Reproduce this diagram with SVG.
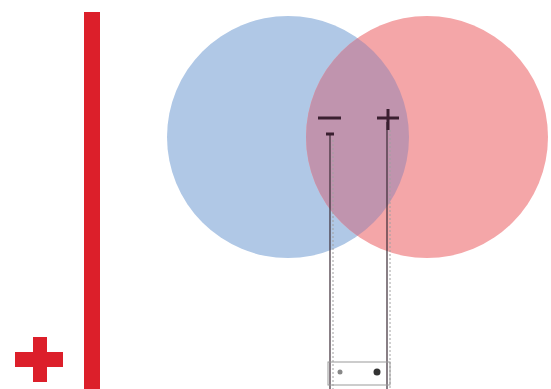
<svg xmlns="http://www.w3.org/2000/svg" width="551" height="389" viewBox="0 0 551 389">
<style>
.red{fill:#dc1f2a}
.wire{stroke:#3a2a35;stroke-width:1.2;fill:none}
.ghost{stroke:#a0a0a0;stroke-width:1;stroke-dasharray:2 2;fill:none}
.sign{stroke:#3a1f30;stroke-width:3;fill:none}
</style>
<defs>
<clipPath id="pinkClip"><circle cx="427" cy="137" r="121"/></clipPath>
</defs>
<rect width="551" height="389" fill="#ffffff"/>
<g id="battery-bar"><rect class="red" x="84" y="12" width="16" height="377"/></g>
<g id="battery-plus">
<rect class="red" x="15" y="352" width="48" height="15"/>
<rect class="red" x="33" y="337" width="14" height="45"/>
</g>
<g id="circle-blue"><circle cx="288" cy="137" r="121" fill="#b0c8e6"/></g>
<g id="circle-pink"><circle cx="427" cy="137" r="121" fill="#f4a6a8"/></g>
<g id="overlap"><circle cx="288" cy="137" r="121" fill="#c094ae" clip-path="url(#pinkClip)"/></g>
<g id="connectors">
<line class="wire" x1="330" y1="134" x2="330" y2="389"/>
<line class="wire" x1="387" y1="122" x2="387" y2="389"/>
<line class="ghost" x1="333" y1="140" x2="333" y2="389"/>
<line class="ghost" x1="390" y1="130" x2="390" y2="389"/>
</g>
<g id="minus-sign">
<line class="sign" x1="318" y1="118" x2="341" y2="118"/>
<line class="sign" x1="326" y1="134" x2="334" y2="134" stroke-width="2"/>
</g>
<g id="plus-sign">
<line class="sign" x1="377" y1="118" x2="399" y2="118"/>
<line class="sign" x1="388" y1="109" x2="388" y2="130"/>
</g>
<g id="meter">
<rect x="328" y="362" width="62" height="23" fill="none" stroke="#9a9a9a" stroke-width="1"/>
<circle cx="340" cy="372" r="2.5" fill="#888"/>
<circle cx="377" cy="372" r="3.5" fill="#333"/>
</g>
</svg>
